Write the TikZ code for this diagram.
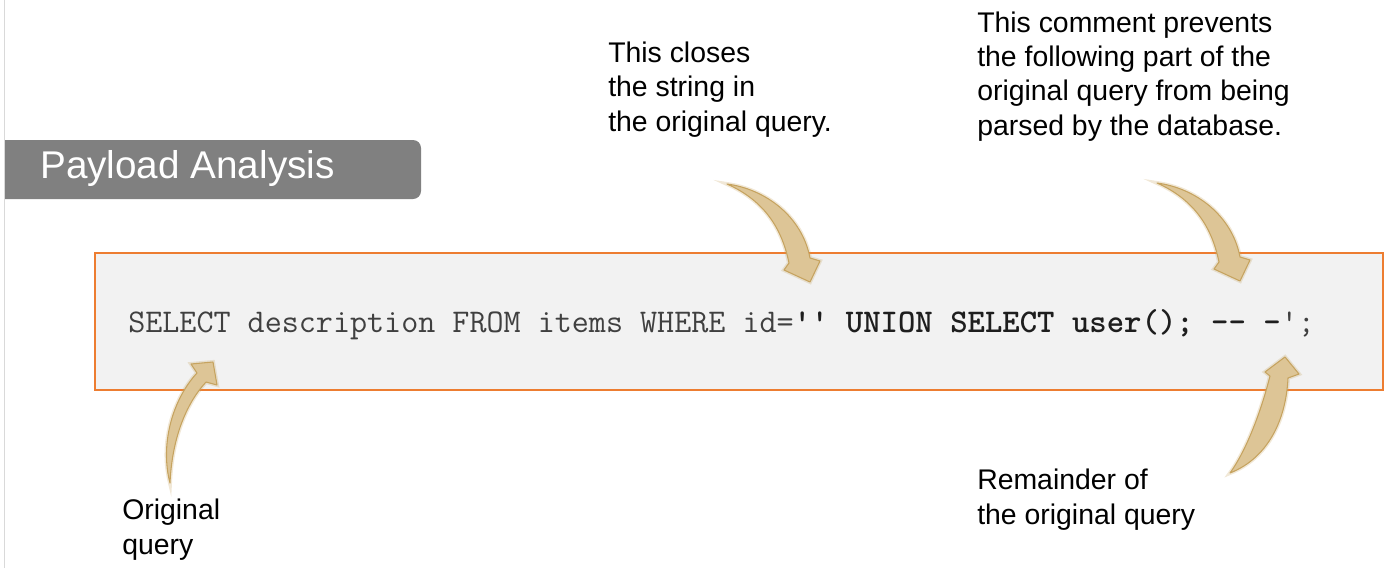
\documentclass[tikz,border=0pt]{standalone}
\usepackage{fontspec}
\setmainfont{Liberation Sans}

\definecolor{slideorange}{RGB}{237,125,49}
\definecolor{codegray}{RGB}{242,242,242}
\definecolor{titlegray}{RGB}{128,128,128}
\definecolor{arrowtan}{RGB}{221,197,150}
\definecolor{arrowedge}{RGB}{198,163,95}
\definecolor{codetext}{RGB}{64,64,64}
\definecolor{codebold}{RGB}{30,30,30}

\begin{document}
\begin{tikzpicture}[
  x=0.75pt, y=-0.75pt,
  note text/.style={anchor=base west, align=left, inner sep=0pt, font=\fontsize{21.3}{25.7}\selectfont},
  code box/.style={draw=slideorange, line width=1.5pt, fill=codegray, minimum width=966pt, minimum height=102.75pt, inner sep=0pt},
  bent arrow/.style={fill=arrowtan, draw=arrowedge, line width=0.8pt, line join=round,
    preaction={draw=arrowedge, line width=3pt, opacity=0.25}}
]
\useasboundingbox (0,0) rectangle (1393,568);

% Slide frame and title bar
\draw[black!15, line width=0.75pt] (4,0) -- (4,568);
\begin{scope}
  \clip (5,0) rectangle (1393,568);
  \fill[titlegray, rounded corners=6pt] (-20,140) rectangle (421,199);
\end{scope}
\node[anchor=base west, inner sep=0pt, text=white, font=\fontsize{29}{34}\selectfont] (title) at (40,178) {Payload Analysis};

% Query
\node[code box] (box) at (739,321.5) {};
\node[anchor=base west, inner sep=0pt, text=codetext, font=\ttfamily\fontsize{24.85}{28}\selectfont] (query) at (128,332)
  {SELECT description FROM items WHERE id=\textcolor{codebold}{\bfseries '' UNION SELECT user(); -- -}';};

% Notes (base = last line)
\node[note text] (closenote) at (608,131) {This closes\\the string in\\the original query.};
\node[note text] (commentnote) at (977,135) {This comment prevents\\the following part of the\\original query from being\\parsed by the database.};
\node[note text] (remnote) at (977,524) {Remainder of\\the original query};
\node[note text] (orignote) at (122,554) {Original\\query};

% Arrows
\draw[bent arrow] (727,184) .. controls (765,189) and (802,216) .. (810,258) -- (820,261) -- (810,282)
  -- (784,270) -- (789,263) .. controls (782,229) and (765,201) .. (727,184) -- cycle;
\draw[bent arrow] (1157,183) .. controls (1195,188) and (1232,215) .. (1240,257) -- (1250,260) -- (1240,281)
  -- (1214,269) -- (1219,262) .. controls (1212,228) and (1195,200) .. (1157,183) -- cycle;
\draw[bent arrow] (1230,473) .. controls (1250,445) and (1264,400) .. (1270,376) -- (1265,372) -- (1285,357)
  -- (1299,374) -- (1288,378) .. controls (1286,420) and (1268,458) .. (1230,473) -- cycle;
\draw[bent arrow] (170,483) .. controls (160,445) and (172,400) .. (197,373) -- (191,364) -- (213,362)
  -- (217,385) -- (206,382) .. controls (185,405) and (172,440) .. (170,483) -- cycle;
\end{tikzpicture}
\end{document}
